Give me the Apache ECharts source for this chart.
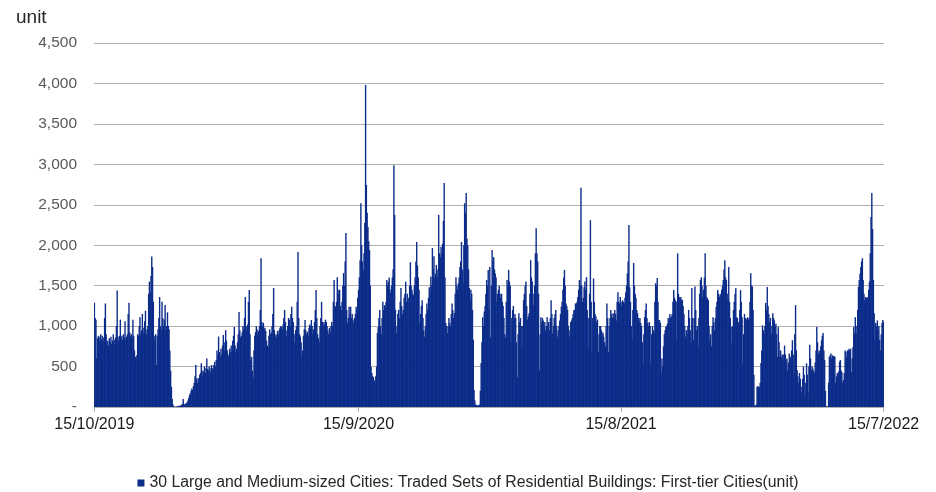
<!DOCTYPE html>
<html>
<head>
<meta charset="utf-8">
<title>Traded Sets of Residential Buildings: First-tier Cities</title>
<script src="https://cdn.jsdelivr.net/npm/echarts@6/dist/echarts.min.js"></script>
<style>
  html, body { margin: 0; padding: 0; background: #ffffff; }
  #chart { width: 936px; height: 492px; }
</style>
</head>
<body>
<div id="chart"></div>
<script>
// Daily traded sets (unit), one array per calendar month
const oct2019 = [1290,1100,1080,600,850,880,820,870,900,830,880,810,860,1100,1280,900,790];
const nov2019 = [820,760,850,800,870,780,820,900,780,830,860,1000,1440,870,820,880,1080,850,880,830,900,860,1060,830,870,900,1150,1290,920,880];
const dec2019 = [900,860,1080,880,700,620,600,640,900,880,1000,1110,900,950,1150,920,980,1060,1190,900,960,1000,1400,1550,1420,1620,1860,1730,1300,830,880];
const jan2020 = [900,520,880,960,1100,1360,1000,960,1300,1100,1000,1080,1260,950,1000,1170,1000,960,700,450,250,100,30,10,5,3,5,8,10,12,15];
const feb2020 = [15,20,25,40,100,30,35,40,50,60,80,110,150,170,200,230,210,260,300,380,520,350,300,360,330,400,420,540,380];
const mar2020 = [450,430,500,420,480,600,470,450,500,480,430,520,480,460,520,560,500,580,700,640,870,680,620,720,650,760,890,700,800,950,820];
const apr2020 = [700,650,620,720,680,760,700,820,880,990,760,680,720,800,900,1175,950,860,880,920,1000,960,1100,1360,1000,950,1020,1300,1445,900];
const may2020 = [580,620,450,370,700,880,925,1000,960,900,940,1000,1200,1840,1050,1000,1040,960,980,940,820,760,740,880,960,900,920,1000,1150,1470,950];
const jun2020 = [880,900,860,940,900,950,980,1000,990,960,1020,1100,1200,1050,880,950,1000,1100,1080,1000,1150,1240,1100,1050,900,800,950,1000,1300,1915];
const jul2020 = [1100,900,870,800,620,700,880,960,1075,950,900,930,880,980,1020,1000,1075,1000,900,960,1050,1200,1445,1100,900,850,800,1000,1100,1300,1050];
const aug2020 = [1000,1050,1020,1080,1050,1000,950,900,980,920,1000,1050,1000,1300,1570,1250,1240,1300,1605,1450,1400,1450,1250,1200,1300,1500,1655,1500,1800,2150,1200];
const sep2020 = [1040,1100,1240,1150,1240,1100,1150,1080,1040,1100,1150,1240,1200,1350,1450,1600,1815,2520,2000,1800,1695,1900,2275,3980,2745,2400,2225,2050,1940,1500];
const oct2020 = [495,420,380,370,330,300,380,500,915,990,1100,1200,1000,900,1100,1300,1200,1260,1240,1300,1570,1500,1550,1600,1450,1410,1500,1600,1700,2990,2375];
const nov2020 = [1200,915,1000,1150,1200,1100,1300,1470,1250,1150,1200,1350,1400,1550,1300,1400,1300,1350,1500,1790,1500,1450,1400,1380,1500,1600,1800,2040,1750,1600];
const dec2020 = [1450,1040,1150,1250,1320,1100,950,870,1000,1150,1280,1200,1350,1480,1400,1610,1500,1965,1700,1865,1600,1650,1755,1600,1700,2375,1900,1850,1980,1900,2020];
const jan2021 = [2300,2770,1600,1040,1000,915,1000,1100,1040,1000,1150,1280,1200,1100,1160,1400,1605,1500,1450,1530,1600,1730,1800,2040,1700,1530,2000,2520,2400,2645,2080];
const feb2021 = [2000,1700,1470,1320,1450,1400,1200,830,210,80,30,25,20,20,25,30,200,545,800,1110,1000,1180,1250,1400,1570,1500,1695,1200];
const mar2021 = [1730,860,1500,1940,1800,1850,1700,1650,1600,1300,1400,1450,1500,1400,1350,1400,1300,1250,1100,900,860,1300,1570,1500,1695,1550,1500,800,1100,1200,1250];
const apr2021 = [1100,1150,1100,800,370,900,1160,1050,1100,1000,750,1000,1320,1400,1500,1550,1250,1080,1120,1160,1400,1815,1600,1550,1400,1260,1500,1900,2210,1900];
const may2021 = [1800,1400,455,900,1110,1050,1100,1070,1000,1050,950,1000,1110,1000,1050,950,1100,1320,1150,910,1000,1100,1150,1200,1000,870,950,1000,1070,1150,1240];
const jun2021 = [1300,1450,1600,1695,1500,1280,1250,1200,1000,870,950,1050,1070,1100,1150,1200,1200,1280,1280,1300,1360,1450,1570,1500,2710,1500,1300,1350,1480,1550];
const jul2021 = [1450,1605,1200,730,1100,1400,2310,1300,680,1100,1590,1300,1150,1120,1050,1080,680,900,1000,1000,950,900,920,870,800,750,1000,1280,1100,680,1000];
const aug2021 = [1100,1200,1150,1100,1160,1100,1200,1150,1070,1300,1420,1300,1280,1360,1300,1250,1320,1300,1280,1350,1420,1500,1650,1800,2250,1480,1300,1000,830,1200,1780];
const sep2021 = [1500,1400,1350,1200,1160,1100,1060,1100,1040,1000,800,545,900,1110,1200,1280,1100,1040,1000,1050,1000,520,900,1000,950,910,1300,1530,1500,1595];
const oct2021 = [1300,1070,1075,1040,420,600,500,750,900,950,990,1000,1030,1100,1080,1150,1100,1120,1150,1300,1445,1350,1320,830,1300,1900,1400,1360,1300,1360,1330];
const nov2021 = [1320,1250,1150,1000,870,950,905,1000,1200,1100,950,790,1470,1100,830,1100,1490,1200,950,1000,750,1100,1400,1570,1605,1500,1360,1450,1600,1900];
const dec2021 = [1500,1360,1340,1320,1000,830,900,750,1000,1110,1050,950,1100,1240,1300,1445,1400,1360,1380,1400,1450,1500,1570,1700,1815,1600,1570,1400,1320,1730,1300];
const jan2022 = [1100,990,790,1000,1200,1300,1400,1470,1110,1100,1050,1030,1200,1445,1300,1110,545,900,1150,1100,1070,1090,1110,1080,1100,1300,1655,1500,1490,1200,400];
const feb2022 = [20,15,30,250,260,240,250,300,545,700,1010,950,910,1000,1285,1200,1485,1250,1150,1050,1100,910,1000,1160,1100,1070,1000,1030];
const mar2022 = [900,620,990,800,620,700,620,650,580,650,760,650,580,600,455,550,660,600,620,700,825,650,420,900,1260,700,455,380,300,420,350];
const apr2022 = [250,180,350,500,400,125,300,540,400,180,500,770,600,455,500,475,450,420,550,700,990,800,660,700,680,750,825,880,915,700];
const may2022 = [580,200,10,5,5,300,620,640,660,600,640,620,630,620,300,380,420,400,440,560,580,450,430,300,335,420,700,680,620,700,700];
const jun2022 = [720,700,720,430,600,740,990,910,1110,1000,910,1200,1485,1570,1650,1730,1800,1840,1570,1400,1320,1360,1350,1340,1360,1450,1550,1900,2350,2645];
const jul2022 = [2200,1570,1160,830,1040,1000,1070,950,1000,830,700,900,1040,1075,1050];

// Dates shown under the horizontal axis
const xTickLabels = ['15/10/2019', '15/9/2020', '15/8/2021', '15/7/2022'];
const seriesName = '30 Large and Medium-sized Cities: Traded Sets of Residential Buildings: First-tier Cities(unit)';

// [year, month, first day, values]
const monthBlocks = [
  [2019, 10, 15, oct2019], [2019, 11, 1, nov2019], [2019, 12, 1, dec2019],
  [2020, 1, 1, jan2020], [2020, 2, 1, feb2020], [2020, 3, 1, mar2020],
  [2020, 4, 1, apr2020], [2020, 5, 1, may2020], [2020, 6, 1, jun2020],
  [2020, 7, 1, jul2020], [2020, 8, 1, aug2020], [2020, 9, 1, sep2020],
  [2020, 10, 1, oct2020], [2020, 11, 1, nov2020], [2020, 12, 1, dec2020],
  [2021, 1, 1, jan2021], [2021, 2, 1, feb2021], [2021, 3, 1, mar2021],
  [2021, 4, 1, apr2021], [2021, 5, 1, may2021], [2021, 6, 1, jun2021],
  [2021, 7, 1, jul2021], [2021, 8, 1, aug2021], [2021, 9, 1, sep2021],
  [2021, 10, 1, oct2021], [2021, 11, 1, nov2021], [2021, 12, 1, dec2021],
  [2022, 1, 1, jan2022], [2022, 2, 1, feb2022], [2022, 3, 1, mar2022],
  [2022, 4, 1, apr2022], [2022, 5, 1, may2022], [2022, 6, 1, jun2022],
  [2022, 7, 1, jul2022]
];

const categories = [];
const values = [];
monthBlocks.forEach(([year, month, firstDay, arr]) => {
  arr.forEach((v, i) => {
    categories.push((firstDay + i) + '/' + month + '/' + year);
    values.push(v);
  });
});

const showDate = (index, value) => xTickLabels.indexOf(value) !== -1;
const font = 'Liberation Sans, Arial, sans-serif';

const chart = echarts.init(document.getElementById('chart'), null, { renderer: 'canvas' });
chart.setOption({
  animation: false,
  backgroundColor: '#ffffff',
  title: {
    text: 'unit',
    left: 11,
    top: 3,
    textStyle: { fontFamily: font, fontSize: 19, fontWeight: 'normal', color: '#262626' }
  },
  grid: { left: 94, right: 52, top: 43, bottom: 85 },
  legend: {
    data: [seriesName],
    top: 470,
    left: 'center',
    icon: 'rect',
    itemWidth: 7,
    itemHeight: 7,
    itemGap: 4,
    textStyle: { fontFamily: font, fontSize: 15.8, color: '#262626' }
  },
  xAxis: {
    type: 'category',
    data: categories,
    boundaryGap: true,
    axisLine: { show: true, lineStyle: { color: '#b0b0b0', width: 1 } },
    axisTick: {
      show: true,
      interval: showDate,
      alignWithLabel: true,
      length: 5,
      lineStyle: { color: '#b0b0b0' }
    },
    axisLabel: {
      interval: showDate,
      margin: 10,
      fontFamily: font,
      fontSize: 16,
      color: '#1a1a1a'
    },
    splitLine: { show: false }
  },
  yAxis: {
    type: 'value',
    min: 0,
    max: 4500,
    interval: 500,
    axisLine: { show: false },
    axisTick: { show: false },
    splitLine: { lineStyle: { color: '#b0b0b0', width: 1 } },
    axisLabel: {
      margin: 17,
      fontFamily: font,
      fontSize: 15.5,
      color: '#595959',
      formatter: v => (v === 0 ? '-' : v.toLocaleString('en-US'))
    }
  },
  series: [{
    name: seriesName,
    type: 'bar',
    data: values,
    barWidth: 1.4,
    itemStyle: { color: '#0c2c8a' }
  }]
});
</script>
</body>
</html>
